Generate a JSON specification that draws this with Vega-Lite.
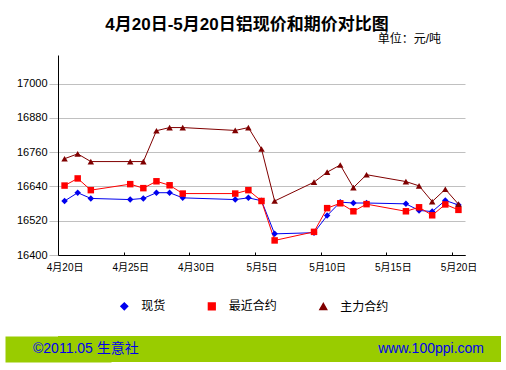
{
  "$schema": "https://vega.github.io/schema/vega-lite/v6.json",
  "background": "white",
  "padding": {"left": 5, "top": 16, "right": 5, "bottom": 8},
  "spacing": 64,
  "title": {"text": "4月20日-5月20日铝现价和期价对比图", "fontSize": 17, "fontWeight": "bold", "font": "Liberation Sans, Noto Sans CJK SC", "color": "black", "anchor": "middle", "offset": -1, "dx": -6},
  "config": {"view": {"stroke": null}, "font": "Liberation Sans, Noto Sans CJK SC"},
  "datasets": {
    "prices": [
      {"date": "2011-04-20T00:00:00", "series": "现货", "price": 16589},
      {"date": "2011-04-21T00:00:00", "series": "现货", "price": 16618},
      {"date": "2011-04-22T00:00:00", "series": "现货", "price": 16598},
      {"date": "2011-04-25T00:00:00", "series": "现货", "price": 16594},
      {"date": "2011-04-26T00:00:00", "series": "现货", "price": 16598},
      {"date": "2011-04-27T00:00:00", "series": "现货", "price": 16618},
      {"date": "2011-04-28T00:00:00", "series": "现货", "price": 16618},
      {"date": "2011-04-29T00:00:00", "series": "现货", "price": 16600},
      {"date": "2011-05-03T00:00:00", "series": "现货", "price": 16594},
      {"date": "2011-05-04T00:00:00", "series": "现货", "price": 16600},
      {"date": "2011-05-05T00:00:00", "series": "现货", "price": 16590},
      {"date": "2011-05-06T00:00:00", "series": "现货", "price": 16474},
      {"date": "2011-05-09T00:00:00", "series": "现货", "price": 16478},
      {"date": "2011-05-10T00:00:00", "series": "现货", "price": 16538},
      {"date": "2011-05-11T00:00:00", "series": "现货", "price": 16585},
      {"date": "2011-05-12T00:00:00", "series": "现货", "price": 16582},
      {"date": "2011-05-13T00:00:00", "series": "现货", "price": 16582},
      {"date": "2011-05-16T00:00:00", "series": "现货", "price": 16579},
      {"date": "2011-05-17T00:00:00", "series": "现货", "price": 16556},
      {"date": "2011-05-18T00:00:00", "series": "现货", "price": 16552},
      {"date": "2011-05-19T00:00:00", "series": "现货", "price": 16591},
      {"date": "2011-05-20T00:00:00", "series": "现货", "price": 16575},
      {"date": "2011-04-20T00:00:00", "series": "最近合约", "price": 16643},
      {"date": "2011-04-21T00:00:00", "series": "最近合约", "price": 16668},
      {"date": "2011-04-22T00:00:00", "series": "最近合约", "price": 16627},
      {"date": "2011-04-25T00:00:00", "series": "最近合约", "price": 16648},
      {"date": "2011-04-26T00:00:00", "series": "最近合约", "price": 16634},
      {"date": "2011-04-27T00:00:00", "series": "最近合约", "price": 16658},
      {"date": "2011-04-28T00:00:00", "series": "最近合约", "price": 16644},
      {"date": "2011-04-29T00:00:00", "series": "最近合约", "price": 16615},
      {"date": "2011-05-03T00:00:00", "series": "最近合约", "price": 16615},
      {"date": "2011-05-04T00:00:00", "series": "最近合约", "price": 16627},
      {"date": "2011-05-05T00:00:00", "series": "最近合约", "price": 16589},
      {"date": "2011-05-06T00:00:00", "series": "最近合约", "price": 16451},
      {"date": "2011-05-09T00:00:00", "series": "最近合约", "price": 16481},
      {"date": "2011-05-10T00:00:00", "series": "最近合约", "price": 16564},
      {"date": "2011-05-11T00:00:00", "series": "最近合约", "price": 16581},
      {"date": "2011-05-12T00:00:00", "series": "最近合约", "price": 16553},
      {"date": "2011-05-13T00:00:00", "series": "最近合约", "price": 16578},
      {"date": "2011-05-16T00:00:00", "series": "最近合约", "price": 16553},
      {"date": "2011-05-17T00:00:00", "series": "最近合约", "price": 16567},
      {"date": "2011-05-18T00:00:00", "series": "最近合约", "price": 16539},
      {"date": "2011-05-19T00:00:00", "series": "最近合约", "price": 16577},
      {"date": "2011-05-20T00:00:00", "series": "最近合约", "price": 16558},
      {"date": "2011-04-20T00:00:00", "series": "主力合约", "price": 16737},
      {"date": "2011-04-21T00:00:00", "series": "主力合约", "price": 16754},
      {"date": "2011-04-22T00:00:00", "series": "主力合约", "price": 16727},
      {"date": "2011-04-25T00:00:00", "series": "主力合约", "price": 16727},
      {"date": "2011-04-26T00:00:00", "series": "主力合约", "price": 16727},
      {"date": "2011-04-27T00:00:00", "series": "主力合约", "price": 16835},
      {"date": "2011-04-28T00:00:00", "series": "主力合约", "price": 16846},
      {"date": "2011-04-29T00:00:00", "series": "主力合约", "price": 16846},
      {"date": "2011-05-03T00:00:00", "series": "主力合约", "price": 16836},
      {"date": "2011-05-04T00:00:00", "series": "主力合约", "price": 16846},
      {"date": "2011-05-05T00:00:00", "series": "主力合约", "price": 16771},
      {"date": "2011-05-06T00:00:00", "series": "主力合约", "price": 16589},
      {"date": "2011-05-09T00:00:00", "series": "主力合约", "price": 16655},
      {"date": "2011-05-10T00:00:00", "series": "主力合约", "price": 16690},
      {"date": "2011-05-11T00:00:00", "series": "主力合约", "price": 16715},
      {"date": "2011-05-12T00:00:00", "series": "主力合约", "price": 16636},
      {"date": "2011-05-13T00:00:00", "series": "主力合约", "price": 16681},
      {"date": "2011-05-16T00:00:00", "series": "主力合约", "price": 16657},
      {"date": "2011-05-17T00:00:00", "series": "主力合约", "price": 16642},
      {"date": "2011-05-18T00:00:00", "series": "主力合约", "price": 16587},
      {"date": "2011-05-19T00:00:00", "series": "主力合约", "price": 16630},
      {"date": "2011-05-20T00:00:00", "series": "主力合约", "price": 16578}
    ],
    "footer": [
      {"label": "©2011.05 生意社", "side": "left"},
      {"label": "www.100ppi.com", "side": "right"}
    ]
  },
  "vconcat": [
    {
      "width": 407,
      "height": 200,
      "title": {"text": "单位：元/吨", "anchor": "end", "frame": "group", "fontSize": 12, "fontWeight": "normal", "dx": -24, "offset": 9, "color": "black"},
      "data": {"name": "prices"},
      "encoding": {
        "x": {
          "field": "date", "type": "temporal", "timeUnit": "yearmonthdate", "bandPosition": 0.5,
          "scale": {"domain": [{"year": 2011, "month": 4, "date": 20}, {"year": 2011, "month": 5, "date": 21}], "nice": false},
          "axis": {
            "values": [
              {"year": 2011, "month": 4, "date": 20},
              {"year": 2011, "month": 4, "date": 25},
              {"year": 2011, "month": 4, "date": 30},
              {"year": 2011, "month": 5, "date": 5},
              {"year": 2011, "month": 5, "date": 10},
              {"year": 2011, "month": 5, "date": 15},
              {"year": 2011, "month": 5, "date": 20}
            ],
            "format": "%-m月%-d日", "title": null, "grid": false,
            "labelFontSize": 10, "labelColor": "black", "labelOffset": 6.6,
            "labelPadding": 10, "labelFlush": false, "labelOverlap": false,
            "tickSize": -3, "tickColor": "black", "domainColor": "black"
          }
        },
        "y": {
          "field": "price", "type": "quantitative",
          "scale": {"domain": [16400, 17100], "nice": false, "zero": false},
          "axis": {
            "values": [16400, 16520, 16640, 16760, 16880, 17000],
            "format": "d", "title": null, "grid": true,
            "gridColor": {"condition": {"test": "datum.value === 16400", "value": "black"}, "value": "#C0C0C0"},
            "tickColor": "#C0C0C0", "tickSize": 9, "domainColor": "black",
            "labelFontSize": 11, "labelColor": "black", "labelPadding": 2,
            "minExtent": 53, "maxExtent": 53
          }
        }
      },
      "layer": [
        {
          "mark": {"type": "line", "strokeWidth": 1},
          "encoding": {
            "color": {
              "field": "series", "type": "nominal",
              "scale": {"domain": ["现货", "最近合约", "主力合约"], "range": ["#0000EE", "#FF0000", "#800000"]},
              "legend": {
                "orient": "none", "legendX": 60.3, "legendY": 245, "direction": "horizontal", "columns": 3,
                "title": null, "padding": 0, "symbolSize": 45, "labelFontSize": 12, "labelColor": "black",
                "labelOffset": 11, "columnPadding": 38.5
              }
            }
          }
        },
        {
          "mark": {"type": "point", "filled": true, "opacity": 1, "size": 42},
          "encoding": {
            "fill": {"field": "series", "type": "nominal", "scale": {"domain": ["现货", "最近合约", "主力合约"], "range": ["#0000EE", "#FF0000", "#800000"]}, "legend": null},
            "shape": {"field": "series", "type": "nominal", "scale": {"domain": ["现货", "最近合约", "主力合约"], "range": ["diamond", "square", "triangle-up"]}, "legend": null}
          }
        }
      ]
    },
    {
      "width": 443,
      "height": 26,
      "view": {"fill": "#99CC00", "stroke": null},
      "data": {"name": "footer"},
      "encoding": {
        "x": {"field": "side", "type": "nominal", "scale": {"type": "point", "padding": 0, "domain": ["left", "right"]}, "axis": null},
        "y": {"datum": 0, "type": "quantitative", "scale": {"domain": [-1, 1]},
          "axis": {"domain": true, "domainColor": "#99CC00", "domainWidth": 106, "domainCap": "butt", "labels": false, "ticks": false, "grid": false, "title": null}},
        "text": {"field": "label"}
      },
      "layer": [
        {"transform": [{"filter": "datum.side === 'left'"}], "mark": {"type": "text", "align": "left", "baseline": "middle", "dx": -25, "fontSize": 14, "color": "#0000EE"}},
        {"transform": [{"filter": "datum.side === 'right'"}], "mark": {"type": "text", "align": "right", "baseline": "middle", "dx": -17, "fontSize": 14, "color": "#0000EE"}}
      ]
    }
  ]
}
